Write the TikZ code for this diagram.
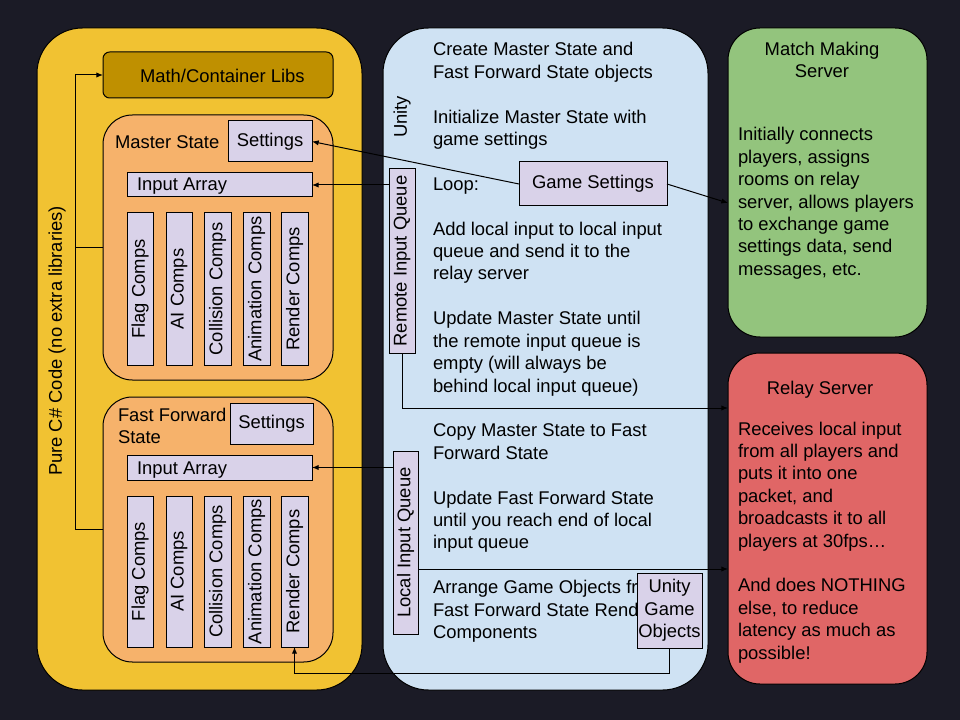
\documentclass[tikz,border=0pt]{standalone}
\usepackage{fontspec}
\setmainfont{Liberation Sans}
\usetikzlibrary{arrows.meta}
\definecolor{bgc}{RGB}{27,27,38}
\definecolor{yelc}{RGB}{241,194,50}
\definecolor{mathc}{RGB}{191,144,0}
\definecolor{orc}{RGB}{246,178,107}
\definecolor{lavc}{RGB}{217,210,233}
\definecolor{bluec}{RGB}{207,226,243}
\definecolor{greenc}{RGB}{147,196,125}
\definecolor{redc}{RGB}{224,102,102}
% box from corner coordinates (px): name, x1, y1, x2, y2, style, text
\newcommand\bx[7]{\node[#6, minimum width={(#4-#2)*0.75pt}, minimum height={(#5-#3)*0.75pt}] (#1) at ({(#2+#4)/2},{(#3+#5)/2}) {#7};}
% rotated (vertical text) box: its north anchor is the page left, west is the page bottom
\newcommand\vbx[7]{\node[#6, rotate=90, minimum width={(#5-#3)*0.75pt}, minimum height={(#4-#2)*0.75pt}] (#1) at ({(#2+#4)/2},{(#3+#5)/2}) {#7};}
\newcommand\tl[4]{\node[txt] (#1) at (#2,#3) {#4};}
\begin{document}
\begin{tikzpicture}[x=0.75pt,y=-0.75pt,
  every node/.style={font=\fontsize{13.8pt}{16.8pt}\selectfont, inner sep=0pt, outer sep=0pt, text=black},
  box/.style={draw=black, line width=0.75pt},
  lav/.style={box, fill=lavc},
  conn/.style={draw=black, line width=0.75pt},
  arr/.style={conn, -{Latex[length=5pt,width=4pt]}},
  txt/.style={anchor=base west},
  ctxt/.style={anchor=base},
]
\fill[bgc] (0,0) rectangle (960,720);
\useasboundingbox (0,0) rectangle (960,720);

% ---------- Pure C# column ----------
\bx{pure}{37}{28}{362}{690}{box, fill=yelc, rounded corners=34pt}{}
\node[rotate=90] (puret) at (57,341) {Pure C\# Code (no extra libraries)};
\bx{math}{103}{52}{333}{98}{box, fill=mathc, rounded corners=5pt}{}
\tl{matht}{140}{83}{Math/Container Libs}

% Master State
\bx{ms}{103}{115}{333}{380}{box, fill=orc, rounded corners=22pt}{}
\tl{mst}{115}{149}{Master State}
\bx{mset}{228}{121}{312}{162}{lav}{Settings}
\bx{ia1}{127}{173}{312}{197}{lav}{}
\tl{ia1t}{137}{191}{Input Array}
\vbx{fc1}{127}{213}{153}{365}{lav}{Flag Comps}
\vbx{ai1}{166}{213}{192}{365}{lav}{AI Comps}
\vbx{cc1}{204}{213}{231}{365}{lav}{Collision Comps}
\vbx{an1}{243}{213}{270}{365}{lav}{Animation Comps}
\vbx{rc1}{281}{213}{308}{365}{lav}{Render Comps}

% Fast Forward State
\bx{ff}{103}{397}{333}{662}{box, fill=orc, rounded corners=22pt}{}
\tl{fft1}{118}{421}{Fast Forward}
\tl{fft2}{118}{443}{State}
\bx{fset}{230}{403}{313}{444}{lav}{Settings}
\bx{ia2}{127}{455}{312}{480}{lav}{}
\tl{ia2t}{137}{474}{Input Array}
\vbx{fc2}{127}{496}{153}{647}{lav}{Flag Comps}
\vbx{ai2}{166}{496}{192}{647}{lav}{AI Comps}
\vbx{cc2}{204}{496}{231}{647}{lav}{Collision Comps}
\vbx{an2}{243}{496}{270}{647}{lav}{Animation Comps}
\vbx{rc2}{281}{496}{308}{647}{lav}{Render Comps}

% ---------- Unity column ----------
\bx{unity}{383}{28}{708}{690}{box, fill=bluec, rounded corners=34pt}{}
\node[rotate=90] (unityt) at (402,117) {Unity};
\tl{u0}{433}{56}{Create Master State and}
\tl{u1}{433}{78.4}{Fast Forward State objects}
\tl{u3}{433}{123.2}{Initialize Master State with}
\tl{u4}{433}{145.6}{game settings}
\tl{u6}{433}{190.4}{Loop:}
\tl{u8}{433}{235.2}{Add local input to local input}
\tl{u9}{433}{257.6}{queue and send it to the}
\tl{u10}{433}{280}{relay server}
\tl{u12}{433}{324.8}{Update Master State until}
\tl{u13}{433}{347.2}{the remote input queue is}
\tl{u14}{433}{369.6}{empty (will always be}
\tl{u15}{433}{392}{behind local input queue)}
\tl{u17}{433}{436.8}{Copy Master State to Fast}
\tl{u18}{433}{459.2}{Forward State}
\tl{u20}{433}{504}{Update Fast Forward State}
\tl{u21}{433}{526.4}{until you reach end of local}
\tl{u22}{433}{548.8}{input queue}
\tl{u24}{433}{593.6}{Arrange Game Objects fr}
\tl{u25}{433}{616}{Fast Forward State Rend}
\tl{u26}{433}{638.4}{Components}

\vbx{rq}{389}{169}{415}{353}{lav}{Remote Input Queue}
\vbx{lq}{393}{451}{418}{634}{lav}{Local Input Queue}
\bx{gs}{519}{162}{667}{206}{lav}{Game Settings}
\bx{ugo}{637}{573}{702}{648}{lav, align=center}{Unity\\Game\\Objects}

% ---------- Servers ----------
\bx{mm}{728}{28}{927}{337}{box, fill=greenc, rounded corners=24pt}{}
\node[ctxt] (mmt1) at (822,56) {Match Making};
\node[ctxt] (mmt2) at (822,78) {Server};
\tl{m0}{738}{141}{Initially connects}
\tl{m1}{738}{163.4}{players, assigns}
\tl{m2}{738}{185.8}{rooms on relay}
\tl{m3}{738}{208.2}{server, allows players}
\tl{m4}{738}{230.6}{to exchange game}
\tl{m5}{738}{253}{settings data, send}
\tl{m6}{738}{275.4}{messages, etc.}

\bx{rs}{728}{353}{927}{684}{box, fill=redc, rounded corners=24pt}{}
\node[ctxt] (rst) at (820,394) {Relay Server};
\tl{r0}{738}{435}{Receives local input}
\tl{r1}{738}{457.4}{from all players and}
\tl{r2}{738}{479.8}{puts it into one}
\tl{r3}{738}{502.2}{packet, and}
\tl{r4}{738}{524.6}{broadcasts it to all}
\tl{r5}{738}{547}{players at 30fps…}
\tl{r7}{738}{591.8}{And does NOTHING}
\tl{r8}{738}{614.2}{else, to reduce}
\tl{r9}{738}{636.6}{latency as much as}
\tl{r10}{738}{659}{possible!}

% ---------- Connectors ----------
\coordinate (bus) at (75,0);
\draw[arr] (ff.west) -- (ff.west -| bus) |- (math.west);
\draw[conn] (ms.west) -- (ms.west -| bus);
\draw[arr] (gs.west) -- (mset.east);
\draw[arr] (gs.east) -- (mm.west |- 0,203);
\draw[arr] (rq.north |- ia1.east) -- (ia1.east);
\draw[arr] (rq.west) |- (rs.west |- 0,408);
\draw[arr] (lq.north |- ia2.east) -- (ia2.east);
\draw[arr] (lq.south |- 0,569) -- (rs.west |- 0,569);
\draw[arr] (ugo.south) -- ++(0,25) -| (rc2.west);
\end{tikzpicture}
\end{document}
